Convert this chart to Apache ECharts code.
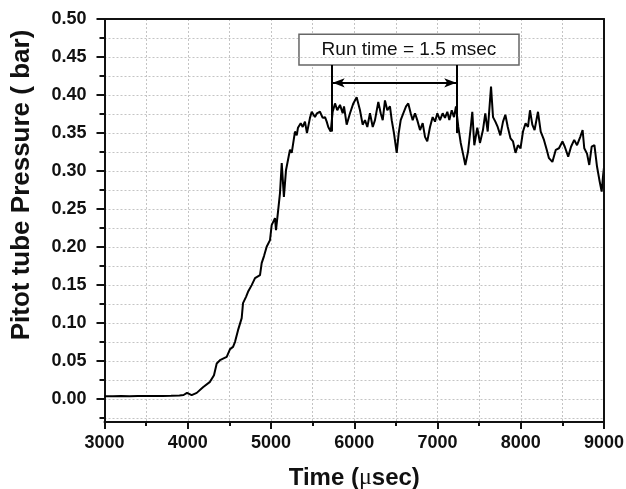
<!DOCTYPE html>
<html>
<head>
<meta charset="utf-8">
<script src="https://cdn.jsdelivr.net/npm/echarts@6/dist/echarts.min.js"></script>
<style>
  html, body { margin: 0; padding: 0; background: #fff; }
  #chart { width: 626px; height: 489px; }
</style>
</head>
<body>
<div id="chart"></div>
<script>
// Pitot tube pressure trace (time in microseconds, pressure in bar)
const timeUs = [
  3000, 3100, 3200, 3300, 3400, 3500, 3600, 3700, 3800, 3900, 3950, 3991, 4047, 4108, 4183,
  4267, 4315, 4348, 4387, 4468, 4508, 4544, 4568, 4604, 4648, 4664, 4700, 4724, 4768, 4808,
  4832, 4868, 4888, 4916, 4948, 4988, 5008, 5048, 5060, 5084, 5108, 5129, 5155, 5180, 5204,
  5228, 5249, 5288, 5309, 5324, 5357, 5381, 5408, 5432, 5468, 5489, 5528, 5552, 5588, 5621,
  5649, 5669, 5688, 5717, 5741, 5769, 5796, 5829, 5861, 5877, 5909, 5949, 5989, 6029, 6069,
  6101, 6129, 6157, 6189, 6222, 6249, 6289, 6318, 6342, 6369, 6397, 6429, 6450, 6477, 6510,
  6534, 6558, 6589, 6622, 6649, 6678, 6702, 6730, 6757, 6790, 6822, 6850, 6877, 6910, 6942,
  6970, 6998, 7030, 7062, 7090, 7118, 7142, 7171, 7198, 7222, 7250, 7279, 7310, 7334, 7366,
  7399, 7418, 7442, 7478, 7510, 7546, 7574, 7603, 7643, 7667, 7695, 7723, 7755, 7787, 7815,
  7844, 7877, 7907, 7937, 7966, 7997, 8027, 8058, 8087, 8111, 8139, 8166, 8207, 8240, 8279,
  8312, 8339, 8380, 8421, 8459, 8501, 8529, 8570, 8604, 8642, 8676, 8715, 8743, 8763, 8796,
  8823, 8852, 8885, 8916, 8945, 8972, 8990, 9000
];
const pressureBar = [
  0.0040, 0.0040, 0.0041, 0.0040, 0.0041, 0.0042, 0.0042, 0.0043, 0.0045, 0.0048, 0.0055, 0.0083, 0.0053, 0.0083, 0.0158,
  0.0228, 0.0316, 0.0470, 0.0513, 0.0557, 0.0658, 0.0688, 0.0754, 0.0908, 0.1066, 0.1263, 0.1346, 0.1412, 0.1500, 0.1592,
  0.1566, 0.1632, 0.1789, 0.1882, 0.2004, 0.2092, 0.2290, 0.2382, 0.2224, 0.2464, 0.2711, 0.3105, 0.2660, 0.3010, 0.2990,
  0.3280, 0.3240, 0.3520, 0.3470, 0.3570, 0.3630, 0.3580, 0.3650, 0.3500, 0.3700, 0.3780, 0.3710, 0.3760, 0.3780, 0.3700,
  0.3710, 0.3650, 0.3580, 0.3520, 0.3780, 0.3890, 0.3800, 0.3870, 0.3760, 0.3850, 0.3610, 0.3760, 0.3890, 0.3970, 0.3800,
  0.3610, 0.3670, 0.3580, 0.3760, 0.3580, 0.3670, 0.3910, 0.3760, 0.3670, 0.3930, 0.3800, 0.3850, 0.3670, 0.3500, 0.3240,
  0.3500, 0.3670, 0.3760, 0.3850, 0.3890, 0.3760, 0.3670, 0.3760, 0.3670, 0.3540, 0.3630, 0.3450, 0.3390, 0.3580, 0.3710,
  0.3650, 0.3760, 0.3670, 0.3760, 0.3700, 0.3780, 0.3670, 0.3800, 0.3710, 0.3850, 0.3580, 0.3370, 0.3210, 0.3080, 0.3250,
  0.3570, 0.3780, 0.3340, 0.3570, 0.3370, 0.3540, 0.3760, 0.3520, 0.4110, 0.3710, 0.3650, 0.3580, 0.3470, 0.3650, 0.3740,
  0.3580, 0.3430, 0.3390, 0.3240, 0.3340, 0.3300, 0.3520, 0.3630, 0.3580, 0.3800, 0.3610, 0.3540, 0.3780, 0.3520, 0.3410,
  0.3280, 0.3170, 0.3120, 0.3280, 0.3300, 0.3390, 0.3320, 0.3190, 0.3320, 0.3410, 0.3340, 0.3450, 0.3540, 0.3300, 0.3230,
  0.3080, 0.3320, 0.3340, 0.3060, 0.2880, 0.2730, 0.2950, 0.3050
];

// Axis ticks
const xTicks = [3000, 4000, 5000, 6000, 7000, 8000, 9000];
const yMajorTicks = [0, 0.05, 0.10, 0.15, 0.20, 0.25, 0.30, 0.35, 0.40, 0.45, 0.50];
const yMinorTicks = [-0.025, 0.025, 0.075, 0.125, 0.175, 0.225, 0.275, 0.325, 0.375, 0.425, 0.475];

// Run-time window (microseconds) and its annotation text
const runStart = 5733;
const runDurationUs = 1500;
const runEnd = runStart + runDurationUs;
const runLabel = 'Run time = ' + (runDurationUs / 1000).toFixed(1) + ' msec';

const seriesData = timeUs.map((t, i) => [t, pressureBar[i]]);

const FONT = '"Liberation Sans", Arial, sans-serif';
const INK = '#111';
const gridLine = { show: true, lineStyle: { color: '#c4c4c4', width: 1, type: [2, 2] } };
// Plain axis lines that close the plot frame on the top and right
const frameAxis = {
  type: 'value',
  z: 6,
  axisLine: { show: true, onZero: false, lineStyle: { color: INK, width: 2 } },
  axisTick: { show: false },
  axisLabel: { show: false },
  splitLine: { show: false }
};

const chart = echarts.init(document.getElementById('chart'), null, { renderer: 'canvas' });

chart.setOption({
  animation: false,
  backgroundColor: '#fff',
  grid: {
    left: 104.5, right: 22, top: 19, bottom: 67,
    containLabel: false,
    outerBoundsMode: 'none',
    show: false
  },
  xAxis: [
    {
      type: 'value',
      min: xTicks[0], max: xTicks[xTicks.length - 1], interval: 1000,
      z: 1,
      axisLine: { show: true, onZero: false, lineStyle: { color: INK, width: 2 } },
      axisTick: { show: true, length: 7, lineStyle: { color: INK, width: 2 } },
      minorTick: { show: true, splitNumber: 2, length: 4, lineStyle: { color: INK, width: 2 } },
      splitLine: gridLine,
      minorSplitLine: gridLine,
      axisLabel: {
        margin: 12, color: INK, fontSize: 18, fontWeight: 'bold', fontFamily: FONT,
        showMaxLabel: true, showMinLabel: true, hideOverlap: false,
        formatter: v => String(v)
      },
      name: 'Time ({mu|μ}sec)',
      nameLocation: 'middle',
      nameGap: 44,
      nameTextStyle: {
        fontSize: 24, fontWeight: 'bold', fontFamily: FONT, color: INK,
        rich: {
          mu: { fontSize: 24, fontFamily: '"Liberation Serif", "DejaVu Serif", serif', color: INK, fontWeight: 'normal' }
        }
      }
    },
    Object.assign({}, frameAxis, { position: 'top', min: xTicks[0], max: xTicks[xTicks.length - 1] })
  ],
  yAxis: [
    {
      type: 'value',
      min: -0.03, max: 0.5,
      z: 2,
      axisLine: { show: true, onZero: false, lineStyle: { color: INK, width: 2 } },
      axisTick: { show: true, length: 8, customValues: yMajorTicks, lineStyle: { color: INK, width: 2 } },
      axisLabel: {
        customValues: yMajorTicks, margin: 18, color: INK, fontSize: 18, fontWeight: 'bold', fontFamily: FONT,
        formatter: v => v.toFixed(2)
      },
      splitLine: gridLine
    },
    {
      type: 'value',
      min: -0.03, max: 0.5, position: 'left',
      z: 1,
      axisLine: { show: false, onZero: false },
      axisTick: { show: true, length: 5, customValues: yMinorTicks, lineStyle: { color: INK, width: 2 } },
      axisLabel: { show: false, customValues: yMinorTicks },
      splitLine: gridLine
    },
    Object.assign({}, frameAxis, { position: 'right', min: -0.03, max: 0.5 })
  ],
  graphic: [
    {
      type: 'text',
      x: 22, y: 185, rotation: Math.PI / 2,
      style: {
        text: 'Pitot tube Pressure ( bar)',
        fill: INK, font: 'bold 26px ' + FONT,
        align: 'center', verticalAlign: 'middle'
      }
    }
  ],
  series: [
    {
      type: 'line',
      data: seriesData,
      showSymbol: false,
      symbol: 'none',
      lineStyle: { color: '#000', width: 2 },
      z: 3,
      markArea: {
        silent: true,
        itemStyle: { color: '#fff', borderColor: '#666', borderWidth: 1.5 },
        label: { show: true, position: 'inside', color: INK, fontSize: 19, fontFamily: FONT, formatter: runLabel },
        data: [[{ coord: [5336, 0.4395] }, { coord: [7979, 0.480] }]]
      },
      markLine: {
        silent: true,
        symbol: 'none',
        label: { show: false },
        lineStyle: { color: '#000', width: 2, type: 'solid' },
        data: [
          [{ coord: [runStart, 0.4395] }, { coord: [runStart, 0.352] }],
          [{ coord: [runEnd, 0.4395] }, { coord: [runEnd, 0.350] }],
          [
            { coord: [runStart + 8, 0.416], symbol: 'arrow', symbolSize: [7, 12] },
            { coord: [runEnd - 8, 0.416], symbol: 'arrow', symbolSize: [7, 12] }
          ]
        ]
      }
    }
  ]
});
</script>
</body>
</html>
